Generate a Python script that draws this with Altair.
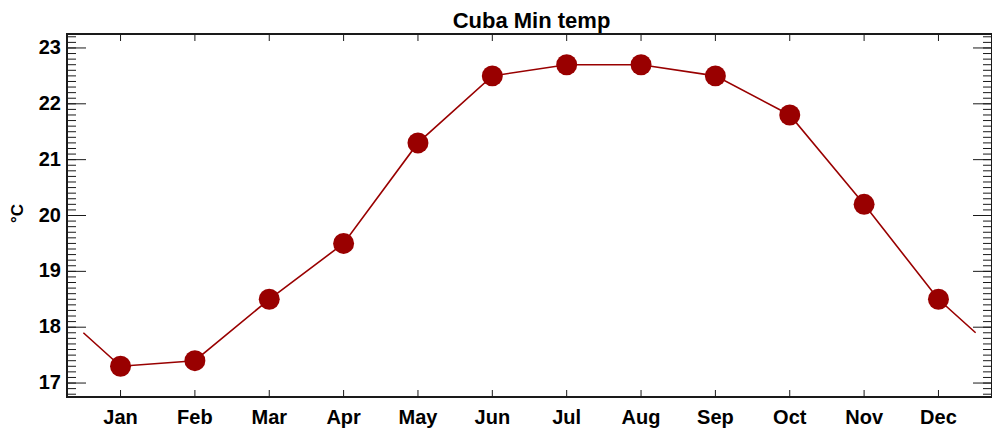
import altair as alt
import pandas as pd

months = ["Jan", "Feb", "Mar", "Apr", "May", "Jun", "Jul", "Aug", "Sep", "Oct", "Nov", "Dec"]
month_idx = [1, 2, 3, 4, 5, 6, 7, 8, 9, 10, 11, 12]
temps = [17.3, 17.4, 18.5, 19.5, 21.3, 22.5, 22.7, 22.7, 22.5, 21.8, 20.2, 18.5]
# line continues half a month past each end (wrap-around value)
edge_idx = [0.5, 12.5]
edge_vals = [17.9, 17.9]

y_major = [17, 18, 19, 20, 21, 22, 23]
y_minor = [round(16.8 + 0.1 * i, 1) for i in range(65)]

title_text = ["Cuba Min temp"]
y_title = ["°C"]

W, H = 925, 363
FONT = "Liberation Sans"
RED = "#990000"
INK = "#1a1a1a"

xscale = alt.Scale(domain=[0.28, 12.72], nice=False, zero=False)
yscale = alt.Scale(domain=[16.75, 23.25], nice=False, zero=False)

pts = pd.DataFrame({"m": month_idx, "t": temps})
line_df = pd.DataFrame({"m": [edge_idx[0]] + month_idx + [edge_idx[1]],
                        "t": [edge_vals[0]] + temps + [edge_vals[1]]})
ymaj = pd.DataFrame({"v": y_major})
ymin = pd.DataFrame({"v": y_minor})
xt = pd.DataFrame({"m": month_idx, "name": months})

X = lambda f: alt.X(f, scale=xscale, axis=None)
Y = lambda f: alt.Y(f, scale=yscale, axis=None)

line = alt.Chart(line_df).mark_line(color=RED, strokeWidth=1.6).encode(x=X("m:Q"), y=Y("t:Q"))
points = alt.Chart(pts).mark_circle(color=RED, size=440, opacity=1).encode(x=X("m:Q"), y=Y("t:Q"))

def yticks(df, x0, x1):
    return alt.Chart(df).mark_rule(color=INK, strokeWidth=1).encode(
        y=Y("v:Q"), x=alt.value(x0), x2=alt.value(x1))

def xticks(y0, y1):
    return alt.Chart(xt).mark_rule(color=INK, strokeWidth=1).encode(
        x=X("m:Q"), y=alt.value(y0), y2=alt.value(y1))

xlabels = alt.Chart(xt).mark_text(font=FONT, fontSize=20, fontWeight="bold", color="black",
                                  baseline="alphabetic", align="center").encode(
    x=X("m:Q"), y=alt.value(H + 27), text="name:N")
ylabels = alt.Chart(ymaj).mark_text(font=FONT, fontSize=20, fontWeight="bold", color="black",
                                    baseline="middle", align="right").encode(
    y=Y("v:Q"), x=alt.value(-6), text=alt.Text("v:Q", format="d"))
ytitle = alt.Chart(pd.DataFrame({"t": y_title})).mark_text(
    font=FONT, fontSize=17, fontWeight="bold", color="black", angle=270,
    baseline="middle", align="center").encode(
    x=alt.value(-49), y=alt.value(H / 2 - 2), text="t:N")
title = alt.Chart(pd.DataFrame({"t": title_text})).mark_text(
    font=FONT, fontSize=22, fontWeight="bold", color="black",
    baseline="top", align="center").encode(
    x=alt.value(W / 2 + 2), y=alt.value(-23), text="t:N")

chart = alt.layer(
    yticks(ymin, 0, 9), yticks(ymaj, 0, 19),
    yticks(ymin, W - 9, W), yticks(ymaj, W - 19, W),
    xticks(H - 7, H), xticks(0, 7),
    line, points, xlabels, ylabels, ytitle, title,
).properties(
    width=W, height=H,
    autosize=alt.AutoSizeParams(type="none"),
    padding={"left": 59, "top": 26, "right": 0, "bottom": 34},
    background="white",
).configure_view(stroke=INK, strokeWidth=2)

chart.save("out.html", embed_options={"renderer": "svg", "actions": False})
